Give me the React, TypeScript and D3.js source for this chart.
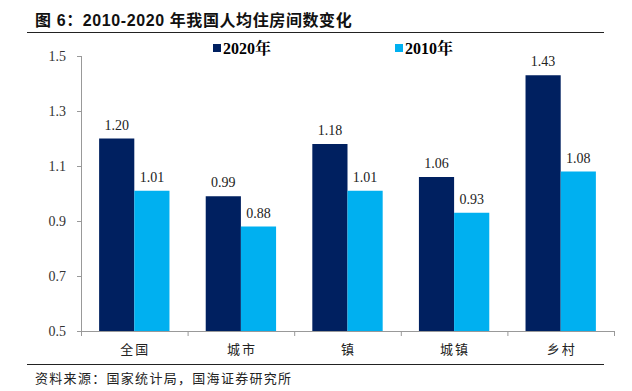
import React from "react";
import * as d3 from "d3";

const categories = ["全国", "城市", "镇", "城镇", "乡村"];
const values2020 = [1.2, 0.99, 1.18, 1.06, 1.43];
const values2010 = [1.01, 0.88, 1.01, 0.93, 1.08];
const seriesNames = ["2020年", "2010年"];
const yTicks = [0.5, 0.7, 0.9, 1.1, 1.3, 1.5];
const colors = ["#002060", "#00B0F0"];

export default function App() {
  const W = 632, H = 391;
  const left = 81, right = 614, top = 56, bottom = 331;
  const x = d3.scaleBand<string>().domain(categories).range([left, right]).paddingInner(0.34).paddingOuter(0.17);
  const xs = d3.scaleBand<string>().domain(seriesNames).range([0, x.bandwidth()]);
  const y = d3.scaleLinear().domain([0.5, 1.5]).range([bottom, top]);
  const step = (right - left) / categories.length;
  const serif = "'Times New Roman', 'Liberation Serif', 'Noto Serif CJK SC', serif";
  const cjk = "'Noto Sans CJK SC', sans-serif";
  const series = [values2020, values2010];
  return (
    <svg width={W} height={H} style={{ position: "absolute", left: 0, top: 0, background: "#fff" }}>
      <text x={35} y={26} fontFamily="'Liberation Sans', 'Noto Sans CJK SC', sans-serif" fontWeight="bold" fontSize={16} letterSpacing={0.6} fill="#111" style={{ whiteSpace: "pre" }}>{"图 6：2010-2020 年我国人均住房间数变化"}</text>
      <line x1={27} x2={604} y1={32.5} y2={32.5} stroke="#222" strokeWidth={1.2} />
      {/* legend */}
      {seriesNames.map((s, i) => (
        <g key={s} transform={`translate(${i === 0 ? 213 : 395},0)`}>
          <rect x={0} y={44} width={8} height={8} fill={colors[i]} />
          <text x={10} y={53.5} fontFamily={serif} fontWeight="bold" fontSize={16} fill="#000">{s}</text>
        </g>
      ))}
      {/* y axis */}
      <line x1={left + 0.5} x2={left + 0.5} y1={top} y2={bottom} stroke="#999" />
      {yTicks.map((t) => (
        <g key={t}>
          <line x1={left - 4} x2={left} y1={Math.round(y(t)) + 0.5} y2={Math.round(y(t)) + 0.5} stroke="#999" />
          <text x={66} y={y(t) + 4.5} textAnchor="end" fontFamily={serif} fontSize={14} fill="#333">{t.toFixed(1)}</text>
        </g>
      ))}
      {/* x axis */}
      <line x1={left} x2={right} y1={bottom + 0.5} y2={bottom + 0.5} stroke="#999" />
      {d3.range(categories.length + 1).map((i) => (
        <line key={i} x1={left + i * step + 0.5} x2={left + i * step + 0.5} y1={bottom} y2={bottom + 5} stroke="#999" />
      ))}
      {categories.map((c) => (
        <text key={c} x={(x(c) as number) + x.bandwidth() / 2 + 1} y={354} textAnchor="middle" fontFamily={cjk} fontSize={13} letterSpacing={2} fill="#222">{c}</text>
      ))}
      {/* bars */}
      {categories.map((c, ci) =>
        seriesNames.map((s, si) => {
          const v = series[si][ci];
          const bx = (x(c) as number) + (xs(s) as number);
          return (
            <g key={c + s}>
              <rect x={bx} y={y(v)} width={xs.bandwidth()} height={bottom - y(v)} fill={colors[si]} />
              <text x={bx + xs.bandwidth() / 2} y={y(v) - 9} textAnchor="middle" fontFamily={serif} fontSize={14} fill="#222">{v.toFixed(2)}</text>
            </g>
          );
        })
      )}
      <line x1={27} x2={604} y1={364.5} y2={364.5} stroke="#222" strokeWidth={1} />
      <text x={35} y={383} fontFamily={cjk} fontSize={13} letterSpacing={1.3} fill="#222">资料来源：国家统计局，国海证券研究所</text>
    </svg>
  );
}
